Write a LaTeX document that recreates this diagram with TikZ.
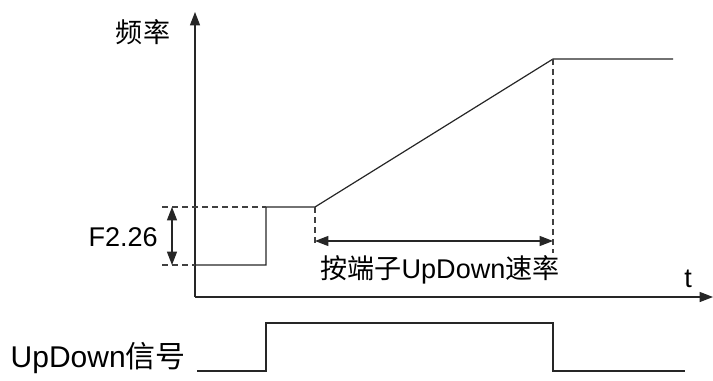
\documentclass[tikz,border=0pt]{standalone}
\usepackage{fontspec}
\setmainfont{Liberation Sans}
\newfontfamily\cjk{Noto Sans CJK SC}
\usetikzlibrary{arrows.meta}
\begin{document}
\begin{tikzpicture}[x=0.75pt,y=-0.75pt,
  line/.style={draw=black!85,line width=0.9pt},
  dsh/.style={draw=black!75,line width=0.8pt,dash pattern=on 4.5pt off 3pt},
  tip/.style={-{Triangle[length=10pt,width=7.5pt]}},
  dtip/.style={{Triangle[length=10pt,width=7.5pt]}-{Triangle[length=10pt,width=7.5pt]}},
  lbl/.style={inner sep=0pt,font=\fontsize{20.3}{24}\selectfont},
  biglbl/.style={inner sep=0pt,font=\fontsize{22.5}{26}\selectfont}]
\useasboundingbox (0,0) rectangle (713,381);
% axes
\coordinate (O) at (195,297);
\coordinate (Ytop) at (195,12);
\coordinate (Xend) at (713,297);
\draw[line,tip] (O) -- (Ytop);
\draw[line,tip] (O) -- (Xend);
% frequency curve
\coordinate (L0) at (195,265);
\coordinate (L1) at (266,265);
\coordinate (H1) at (266,207);
\coordinate (R0) at (315,207);
\coordinate (R1) at (553,59);
\coordinate (R2) at (673,59);
\draw[line] (L0) -- (L1) -- (H1) -- (R0) -- (R1) -- (R2);
% dashed references
\coordinate (DL) at (162,265);
\coordinate (DH) at (162,207);
\draw[dsh] (DL) -- (L0);
\draw[dsh] (DH) -- (H1);
\coordinate (V1) at (315,245);
\coordinate (V2) at (553,253);
\draw[dsh] (R0) -- (V1);
\draw[dsh] (R1) -- (V2);
% arrows
\coordinate (A1) at (315,241);
\coordinate (A2) at (553,241);
\draw[line,dtip] (A1) -- (A2);
\coordinate (F1) at (172,207);
\coordinate (F2) at (172,265);
\draw[line,dtip] (F1) -- (F2);
% labels
\node[lbl,anchor=east] (f226) at (158,237) {F2.26};
\node[lbl] (rate) at (440,270) {{\cjk 按端子}UpDown{\cjk 速率}};
\node[lbl] (t) at (688,279) {t};
\node[lbl] (freq) at (143,32) {\cjk 频率};
% signal
\node[biglbl,anchor=east] (sig) at (186,358) {UpDown{\cjk 信号}};
\coordinate (S0) at (197,371);
\coordinate (S1) at (266,371);
\coordinate (S2) at (266,323);
\coordinate (S3) at (553,323);
\coordinate (S4) at (553,371);
\coordinate (S5) at (685,371);
\draw[line] (S0) -- (S1) -- (S2) -- (S3) -- (S4) -- (S5);
\end{tikzpicture}
\end{document}
